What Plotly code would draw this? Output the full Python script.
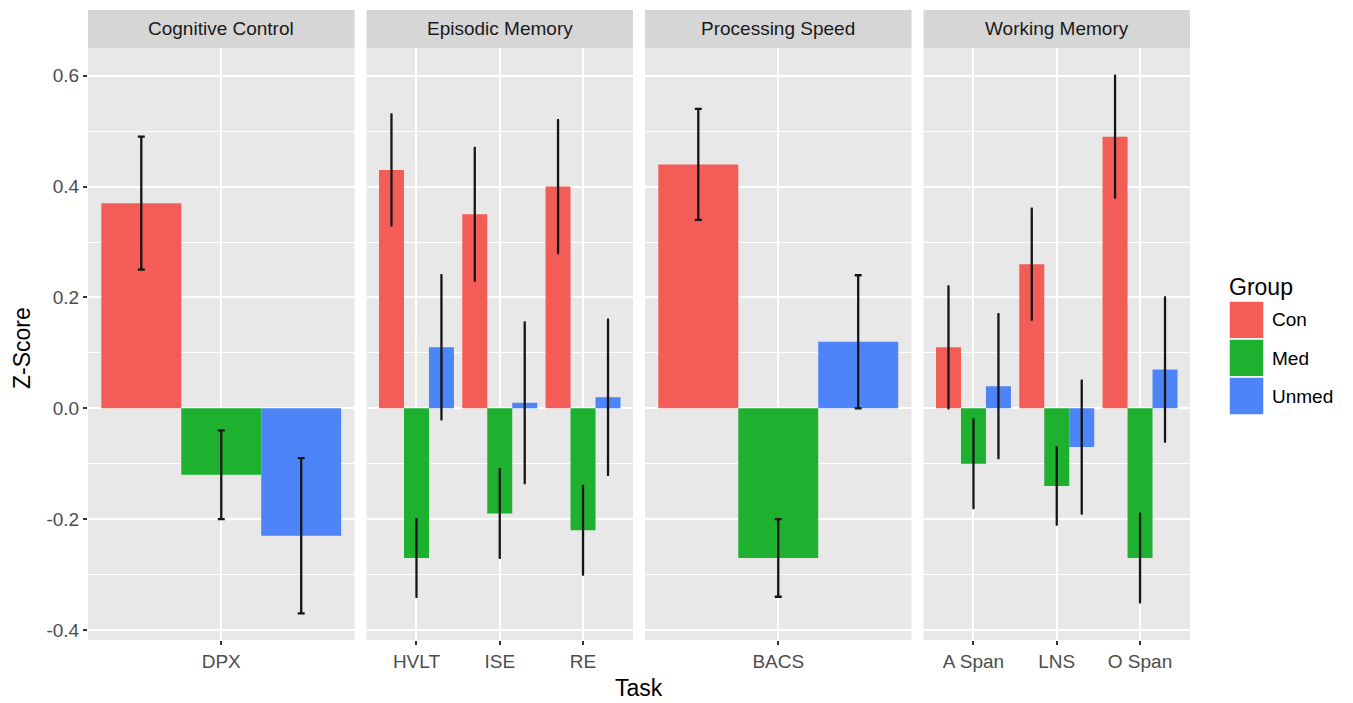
import plotly.graph_objects as go

# ---------------- data ----------------
tasks = ["DPX", "HVLT", "ISE", "RE", "BACS", "A Span", "LNS", "O Span"]
domains = ["Cognitive Control", "Episodic Memory", "Episodic Memory", "Episodic Memory",
           "Processing Speed", "Working Memory", "Working Memory", "Working Memory"]
facets = ["Cognitive Control", "Episodic Memory", "Processing Speed", "Working Memory"]
groups = ["Con", "Med", "Unmed"]

con_mean = [0.37, 0.43, 0.35, 0.40, 0.44, 0.11, 0.26, 0.49]
con_lo = [0.25, 0.33, 0.23, 0.28, 0.34, 0.00, 0.16, 0.38]
con_hi = [0.49, 0.53, 0.47, 0.52, 0.54, 0.22, 0.36, 0.60]

med_mean = [-0.12, -0.27, -0.19, -0.22, -0.27, -0.10, -0.14, -0.27]
med_lo = [-0.20, -0.34, -0.27, -0.30, -0.34, -0.18, -0.21, -0.35]
med_hi = [-0.04, -0.20, -0.11, -0.14, -0.20, -0.02, -0.07, -0.19]

unmed_mean = [-0.23, 0.11, 0.01, 0.02, 0.12, 0.04, -0.07, 0.07]
unmed_lo = [-0.37, -0.02, -0.135, -0.12, 0.00, -0.09, -0.19, -0.06]
unmed_hi = [-0.09, 0.24, 0.155, 0.16, 0.24, 0.17, 0.05, 0.20]

y_tickvals = [-0.4, -0.2, 0.0, 0.2, 0.4, 0.6]
y_ticktext = ["-0.4", "-0.2", "0.0", "0.2", "0.4", "0.6"]

colors = ["#F45C58", "#1DB12F", "#4D84F7"]

means = [con_mean, med_mean, unmed_mean]
lows = [con_lo, med_lo, unmed_lo]
highs = [con_hi, med_hi, unmed_hi]

# ---------------- layout geometry (window pixels) ----------------
W, H = 1353, 703
OFF = 8  # default page body margin
FW, FH = W - OFF, H - OFF
FONT = "Liberation Sans, Arial, Helvetica, sans-serif"
panel_left, panel_w, panel_gap = 88, 266.5, 12
panel_top, panel_bottom, strip_top = 48, 640, 10
bar_w = 0.3
offsets = [-0.3, 0.0, 0.3]


def fx(px):
    return (px - OFF) / FW


def fy(py):
    return 1 - (py - OFF) / FH


fig = go.Figure()
layout = dict(
    width=FW, height=FH, autosize=False,
    margin=dict(l=0, r=0, t=0, b=0),
    paper_bgcolor="white", plot_bgcolor="#E8E8E8",
    showlegend=False, barmode="overlay",
    font=dict(family=FONT, size=19, color="#4D4D4D"),
)
shapes = []
annotations = []

for i, facet in enumerate(facets):
    idx = [k for k, d in enumerate(domains) if d == facet]
    n = len(idx)
    local = list(range(1, n + 1))
    ax = "" if i == 0 else str(i + 1)
    for g in range(3):
        xs = [j + offsets[g] for j in local]
        ys = [means[g][k] for k in idx]
        up = [highs[g][k] - means[g][k] for k in idx]
        dn = [means[g][k] - lows[g][k] for k in idx]
        fig.add_trace(go.Bar(
            x=xs, y=ys, width=bar_w, name=groups[g],
            marker=dict(color=colors[g], line=dict(width=0)),
            error_y=dict(type="data", symmetric=False, array=up, arrayminus=dn,
                         color="#151515", thickness=2.3, width=3.5 if n == 1 else 1),
            xaxis="x" + ax, yaxis="y" + ax, hoverinfo="skip",
        ))
    x0 = panel_left + i * (panel_w + panel_gap)
    x1 = x0 + panel_w
    xrange = [0.5, 1.5] if n == 1 else [0.4, n + 0.6]
    layout["xaxis" + ax] = dict(
        domain=[fx(x0), fx(x1)], anchor="y" + ax, range=xrange,
        tickvals=local, ticktext=[tasks[k] for k in idx],
        showgrid=True, gridcolor="white", gridwidth=2.2,
        ticks="outside", ticklen=4, tickwidth=1.5, tickcolor="#333333",
        showline=False, zeroline=False, fixedrange=True,
        tickfont=dict(family=FONT, size=19, color="#4D4D4D"),
    )
    layout["yaxis" + ax] = dict(
        domain=[fy(panel_bottom), fy(panel_top)], anchor="x" + ax,
        range=[-0.418, 0.650],
        tickvals=y_tickvals, ticktext=y_ticktext,
        showticklabels=(i == 0), ticks="outside" if i == 0 else "",
        ticklen=4, tickwidth=1.5, tickcolor="#333333",
        showgrid=True, gridcolor="white", gridwidth=2.2,
        minor=dict(tick0=0.1, dtick=0.2, showgrid=True, gridcolor="white",
                   gridwidth=1.1, ticks=""),
        zeroline=False, showline=False, fixedrange=True,
        tickfont=dict(family=FONT, size=19, color="#4D4D4D"),
    )
    # strip
    shapes.append(dict(type="rect", xref="paper", yref="paper",
                       x0=fx(x0), x1=fx(x1), y0=fy(panel_top), y1=fy(strip_top),
                       fillcolor="#D6D6D6", line=dict(width=0), layer="below"))
    annotations.append(dict(text=facet, xref="paper", yref="paper",
                            x=fx((x0 + x1) / 2), y=fy((panel_top + strip_top) / 2),
                            xanchor="center", yanchor="middle", showarrow=False,
                            font=dict(family=FONT, size=19, color="#1A1A1A")))

# axis titles
annotations.append(dict(text="Task", xref="paper", yref="paper",
                        x=fx((panel_left + panel_left + 4 * panel_w + 3 * panel_gap) / 2),
                        y=fy(688), xanchor="center", yanchor="middle", showarrow=False,
                        font=dict(family=FONT, size=23, color="black")))
annotations.append(dict(text="Z-Score", xref="paper", yref="paper",
                        x=fx(22), y=fy(348), textangle=-90,
                        xanchor="center", yanchor="middle", showarrow=False,
                        font=dict(family=FONT, size=23, color="black")))

# legend (drawn manually to match ggplot key size)
annotations.append(dict(text="Group", xref="paper", yref="paper",
                        x=fx(1227), y=fy(287), xanchor="left", yanchor="middle",
                        showarrow=False, font=dict(family=FONT, size=23, color="black")))
key_top, key_h = 301, 38
for g in range(3):
    ky0 = key_top + g * key_h
    shapes.append(dict(type="rect", xref="paper", yref="paper",
                       x0=fx(1229), x1=fx(1264), y0=fy(ky0 + key_h), y1=fy(ky0),
                       fillcolor=colors[g], line=dict(color="white", width=1.5)))
    annotations.append(dict(text=groups[g], xref="paper", yref="paper",
                            x=fx(1270), y=fy(ky0 + key_h / 2), xanchor="left",
                            yanchor="middle", showarrow=False,
                            font=dict(family=FONT, size=19, color="black")))

layout["shapes"] = shapes
layout["annotations"] = annotations
fig.update_layout(**layout)
fig.write_html("out.html")
